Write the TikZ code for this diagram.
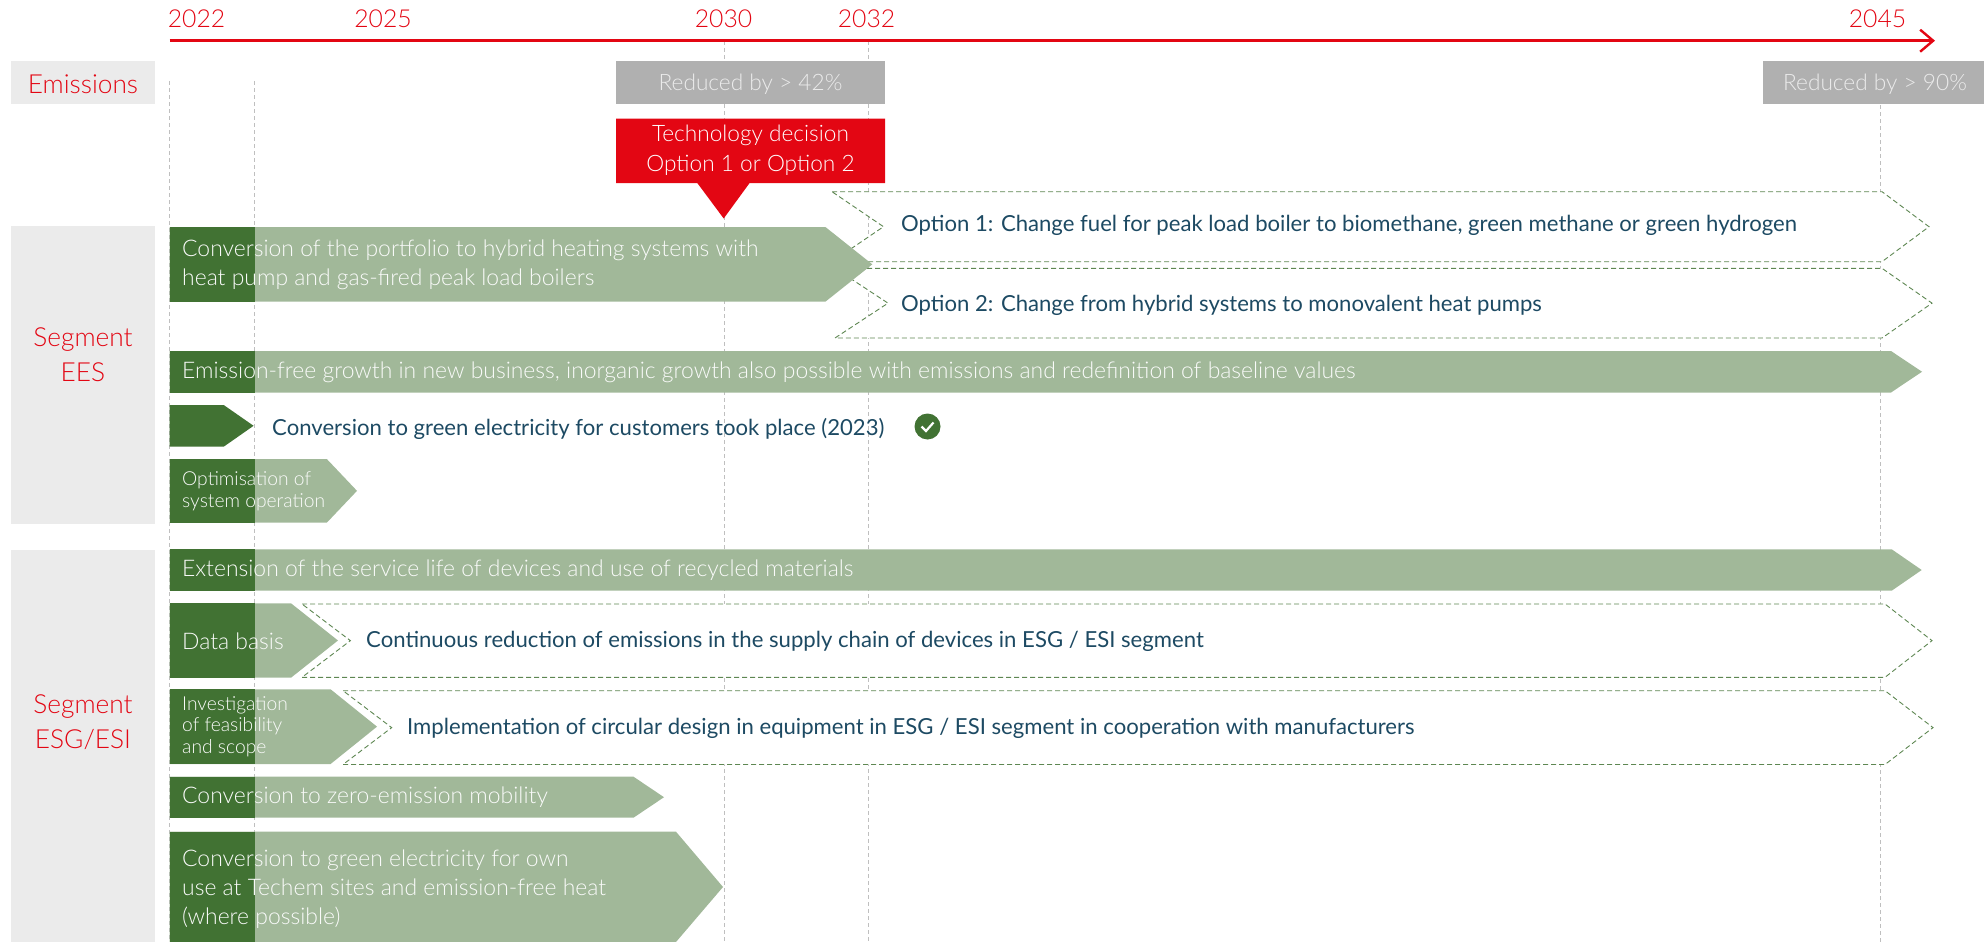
\documentclass[tikz,border=0pt]{standalone}
\usepackage{fontspec}
\setmainfont{Lato Light}[Scale=1.03]
\newfontfamily\plainfont{Lato}[Scale=1.01]
\usetikzlibrary{arrows.meta}
\usetikzlibrary{positioning}
\definecolor{hotred}{HTML}{E30613}
\definecolor{darkgreen}{HTML}{417233}
\definecolor{palegreen}{HTML}{A1B899}
\definecolor{inkblue}{HTML}{1D4A63}
\definecolor{panelgrey}{HTML}{EBEBEB}
\definecolor{badgegrey}{HTML}{B0B0B0}
\tikzstyle{panel}=[fill=panelgrey]
\tikzstyle{gridline}=[draw=black!25,line width=0.9pt,dash pattern=on 4pt off 3pt]
\tikzstyle{bar}=[fill=palegreen]
\tikzstyle{startpart}=[fill=darkgreen]
\tikzstyle{future}=[draw=darkgreen!85,fill=white,line width=0.9pt,dash pattern=on 5pt off 3pt]
\tikzstyle{year}=[font=\fontsize{24}{28}\selectfont,text=hotred,inner sep=0pt]
\tikzstyle{seglabel}=[font=\fontsize{25.5}{35}\selectfont,text=hotred,align=center,inner sep=0pt]
\tikzstyle{badge}=[font=\fontsize{22}{30}\selectfont,text=white!92!black,inner sep=0pt,align=center]
\tikzstyle{bartext}=[font=\fontsize{22.25}{29}\selectfont,text=white!95!palegreen,anchor=west,inner sep=0pt,align=left]
\tikzstyle{smalltext}=[font=\fontsize{18.7}{21.7}\selectfont,text=white!95!palegreen,anchor=west,inner sep=0pt,align=left]
\tikzstyle{plaintext}=[font=\plainfont\fontsize{21.9}{29}\selectfont,text=inkblue,anchor=west,inner sep=0pt]

\begin{document}
\begin{tikzpicture}[x=1pt,y=-1pt]
    \useasboundingbox (0,0) rectangle (1984,942);

    % Grey panels on the left
    \fill[panel] (11,61) rectangle (155,104);
    \fill[panel] (11,226) rectangle (155,524);
    \fill[panel] (11,550) rectangle (155,942);

    % Dashed year lines
    \foreach \xpos/\ystart/\name in {169/81/g22, 254.5/81/g25, 724/41/g30, 868/41/g32, 1880/105/g45} {
        \coordinate (\name top) at (\xpos,\ystart);
        \coordinate (\name bottom) at (\xpos,942);
        \draw[gridline] (\name top) -- (\name bottom);
    }

    % Time axis
    \coordinate (axisstart) at (169.5,40.7);
    \coordinate (axisend) at (1935,40.7);
    \draw[hotred,line width=2.4pt,-{Straight Barb[length=13pt,width=22pt]}] (axisstart) -- (axisend);
    \foreach \xpos/\name in {196.5/2022, 383/2025, 723.5/2030, 866.5/2032, 1877.5/2045}
        \node[year] (y\name) at (\xpos,19) {\name};

    % Panel labels
    \node[seglabel] (emissions) at (83,84) {Emissions};
    \node[seglabel] (segees) at (83,355) {Segment\\EES};
    \node[seglabel] (segesg) at (83,722) {Segment\\ESG/ESI};

    % Targets and decision
    \fill[badgegrey] (616,61) rectangle (885,104);
    \fill[badgegrey] (1763,61) rectangle (1984,104);
    \node[badge] (target42) at (750.5,84) {Reduced by > 42\%};
    \node[badge] (target90) at (1875,84) {Reduced by > 90\%};
    \fill[hotred] (616,118.5) -- (885,118.5) -- (885,183) -- (749.6,183) -- (723.7,218.5) -- (697.3,183) -- (616,183) -- cycle;
    \node[badge,text=white] (decision) at (750.5,150) {Technology decision\\Option 1 or Option 2};

    % Dashed outlook arrows: top, bottom, left, notch, neck, tip
    \foreach \ytop/\ybot/\xleft/\xnotch/\xneck/\xtip in {191.7/261.7/832/883.5/1882/1929, 268.3/338/835/888/1882/1932, 604/677.3/302/350.4/1885/1932, 690.7/764.5/343/391.7/1885/1933}
        \path[future] (\xleft,\ytop) -- (\xneck,\ytop) -- (\xtip,{(\ytop+\ybot)/2}) -- (\xneck,\ybot) -- (\xleft,\ybot) -- (\xnotch,{(\ytop+\ybot)/2}) -- cycle;

    % Solid bars: top, bottom, neck, tip
    \foreach \ytop/\ybot/\xneck/\xtip in {227/301.7/825.4/872.3, 351/392.5/1891/1922, 459/522.7/326.8/357, 549.3/590.7/1891.7/1921.7, 603.3/677.7/291/338, 689.3/764/330.6/377, 776.7/817.7/633.5/664} {
        \fill[bar] (169.5,\ytop) -- (\xneck,\ytop) -- (\xtip,{(\ytop+\ybot)/2}) -- (\xneck,\ybot) -- (169.5,\ybot) -- cycle;
        \fill[startpart] (169.5,\ytop) rectangle (254.5,\ybot);
    }
    \fill[bar] (169.5,831.7) -- (676,831.7) -- (723,887) -- (676,942) -- (169.5,942) -- cycle;
    \fill[startpart] (169.5,831.7) rectangle (254.5,942);
    \fill[startpart] (169.5,405) -- (223.7,405) -- (253.6,425.8) -- (223.7,446.7) -- (169.5,446.7) -- cycle;

    % Texts in the bars
    \node[bartext] (hybrid) at (182,265) {Conversion of the portfolio to hybrid heating systems with\\heat pump and gas-fired peak load boilers};
    \node[bartext] (growth) at (182,372) {Emission-free growth in new business, inorganic growth also possible with emissions and redefinition of baseline values};
    \node[smalltext] (optimise) at (182,491) {Optimisation of\\system operation};
    \node[bartext] (extension) at (182,570.5) {Extension of the service life of devices and use of recycled materials};
    \node[bartext] (databasis) at (182,641.5) {Data basis};
    \node[smalltext] (feasibility) at (182,726.5) {Investigation\\of feasibility\\and scope};
    \node[bartext] (mobility) at (182,797.5) {Conversion to zero-emission mobility};
    \node[bartext] (ownuse) at (182,889.5) {Conversion to green electricity for own\\use at Techem sites and emission-free heat\\(where possible)};

    % Texts beside the bars
    \node[plaintext] (option1) at (901,225.5) {Option 1: Change fuel for peak load boiler to biomethane, green methane or green hydrogen};
    \node[plaintext] (option2) at (901,305.5) {Option 2: Change from hybrid systems to monovalent heat pumps};
    \node[plaintext] (customers) at (272,428.5) {Conversion to green electricity for customers took place (2023)};
    \node[plaintext] (supply) at (366,641.5) {Continuous reduction of emissions in the supply chain of devices in ESG / ESI segment};
    \node[plaintext] (circular) at (407,728.5) {Implementation of circular design in equipment in ESG / ESI segment in cooperation with manufacturers};

    % Done mark
    \node[circle,fill=darkgreen,minimum size=26pt,inner sep=0pt] (done) at (927.5,426.5) {};
    \draw[white,line width=2.2pt] ([xshift=-6pt]done.center) -- ([xshift=-1.5pt,yshift=-4.5pt]done.center) -- ([xshift=6pt,yshift=4pt]done.center);
\end{tikzpicture}
\end{document}
